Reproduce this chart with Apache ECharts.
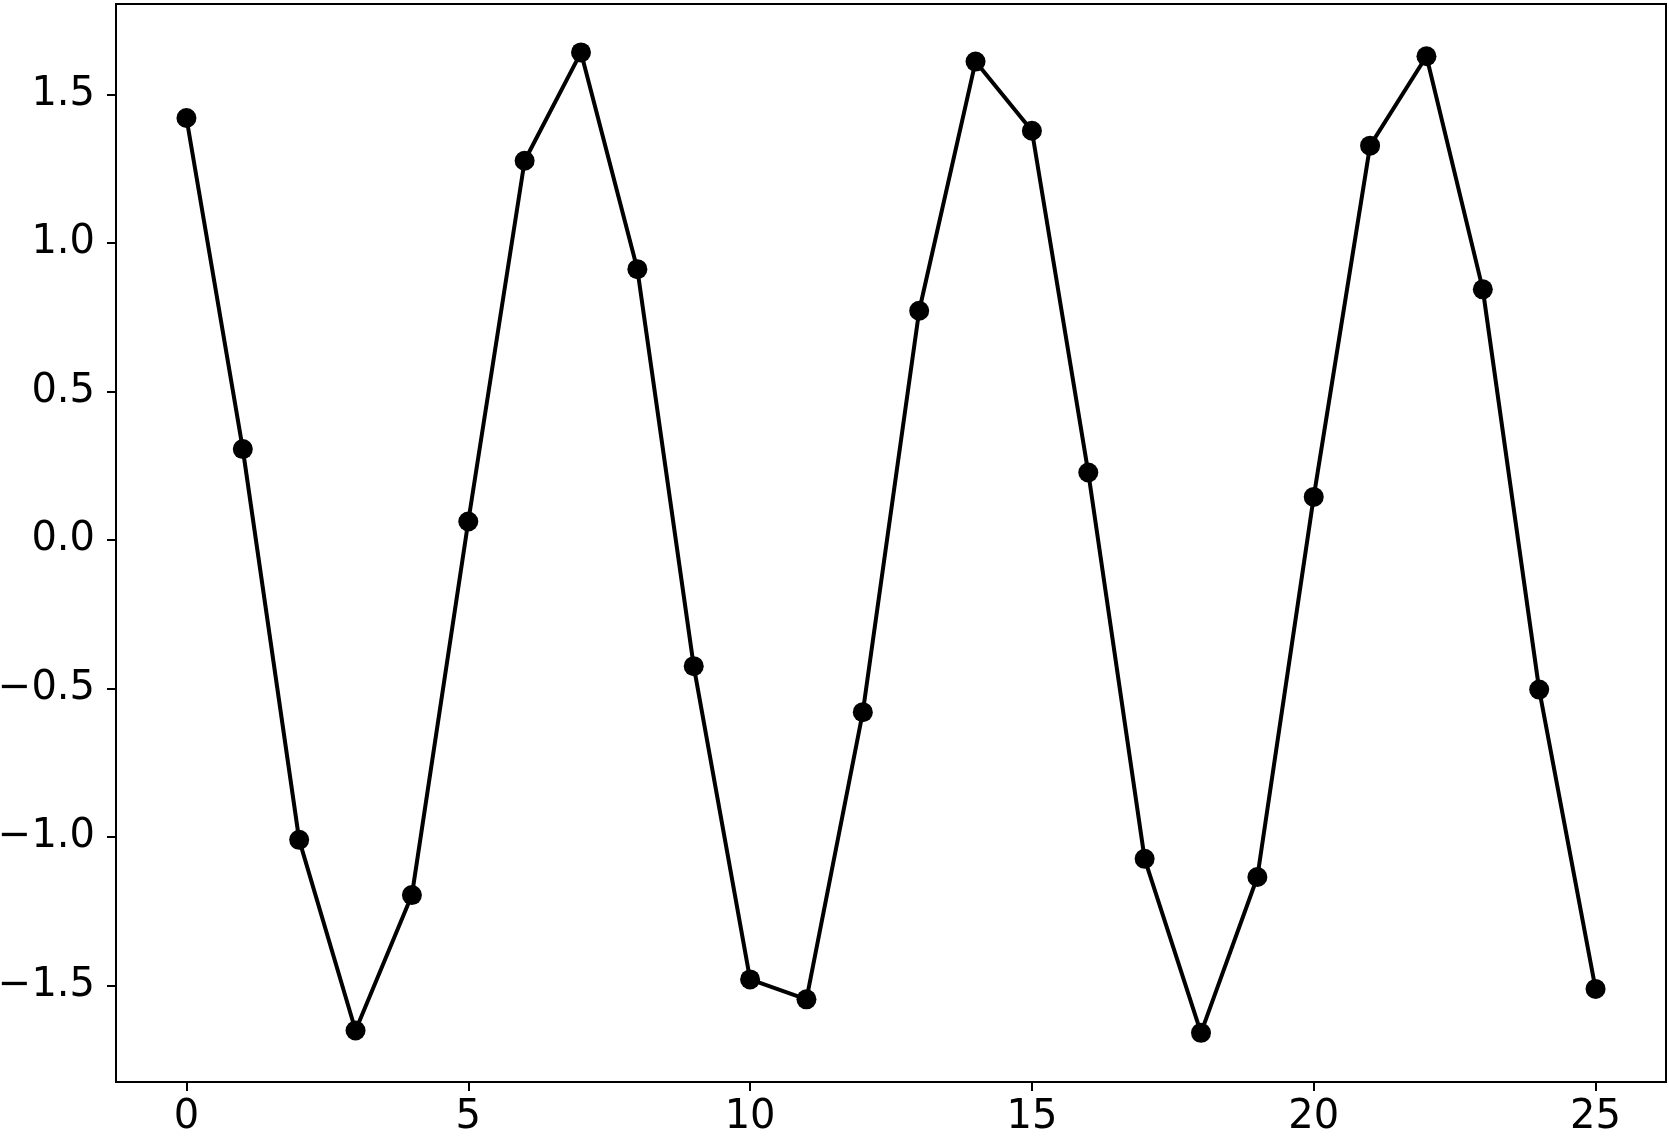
<!DOCTYPE html>
<html>
<head>
<meta charset="utf-8">
<script src="https://cdn.jsdelivr.net/npm/echarts@6/dist/echarts.min.js"></script>
<style>
html,body{margin:0;padding:0;background:#fff;}
#chart{width:1669px;height:1136px;}
</style>
</head>
<body>
<div id="chart"></div>
<script>
const xValues = [0,1,2,3,4,5,6,7,8,9,10,11,12,13,14,15,16,17,18,19,20,21,22,23,24,25];
const yValues = [1.421,0.306,-1.010,-1.652,-1.196,0.062,1.277,1.642,0.912,-0.425,-1.480,-1.547,-0.580,0.772,1.611,1.378,0.227,-1.074,-1.660,-1.135,0.145,1.328,1.629,0.844,-0.504,-1.512];
const xTicks = [0,5,10,15,20,25];
const yTicks = [-1.5,-1.0,-0.5,0.0,0.5,1.0,1.5];

const chart = echarts.init(document.getElementById('chart'), null, {renderer:'canvas'});
const font = {fontFamily:'DejaVu Sans', fontSize:40, color:'#000'};
chart.setOption({
  animation:false,
  backgroundColor:'#fff',
  grid:{left:116, top:4, right:3, bottom:54, show:true, borderColor:'#000', borderWidth:2, backgroundColor:'transparent', outerBoundsMode:'none', containLabel:false},
  xAxis:{
    type:'value', min:-1.25, max:26.25,
    axisLine:{show:true, onZero:false, lineStyle:{color:'#000', width:2}},
    axisTick:{show:true, customValues:xTicks, length:9, lineStyle:{color:'#000', width:2}},
    axisLabel:Object.assign({customValues:xTicks, margin:16, formatter:v=>String(v)}, font),
    splitLine:{show:false}
  },
  yAxis:{
    type:'value', min:-1.8255, max:1.805,
    axisLine:{show:true, onZero:false, lineStyle:{color:'#000', width:2}},
    axisTick:{show:true, customValues:yTicks, length:9, lineStyle:{color:'#000', width:2}},
    axisLabel:Object.assign({customValues:yTicks, margin:21, formatter:v=>Number(v).toFixed(1).replace('-','\u2212')}, font),
    splitLine:{show:false}
  },
  series:[{
    type:'line',
    data:xValues.map((x,i)=>[x,yValues[i]]),
    symbol:'circle', symbolSize:20,
    itemStyle:{color:'#000'},
    lineStyle:{color:'#000', width:4},
    showAllSymbol:true
  }]
});
</script>
</body>
</html>
